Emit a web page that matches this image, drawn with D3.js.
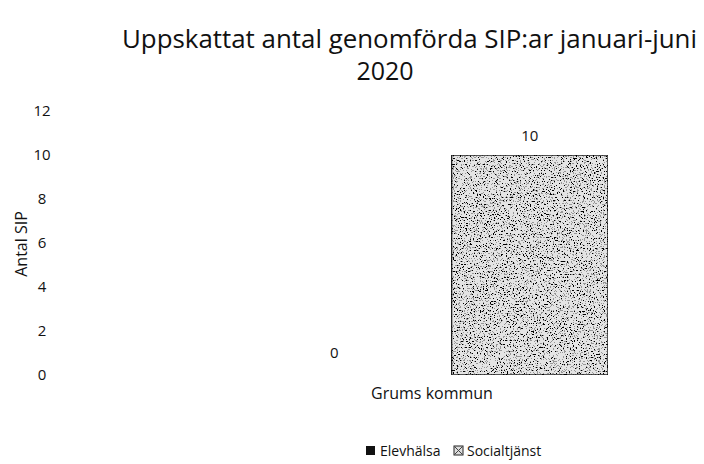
<!DOCTYPE html>
<html>
<head>
<meta charset="utf-8">
<script src="https://cdn.jsdelivr.net/npm/d3@7"></script>
<style>
  body { margin: 0; background: #fff; }
  text { font-family: "Open Sans", "Liberation Sans", sans-serif; fill: #111; }
</style>
</head>
<body>
<div id="chart"></div>
<script>
// data
var categories = ["Grums kommun"];
var series = ["Elevhälsa", "Socialtjänst"];
var elevhalsa = [0];
var socialtjanst = [10];
var yTicks = [0, 2, 4, 6, 8, 10, 12];

var W = 704, H = 464;
var svg = d3.select("#chart").append("svg")
  .attr("width", W).attr("height", H);

// speckled scan look for the bar
var defs = svg.append("defs");
var f = defs.append("filter").attr("id", "speckle")
  .attr("x", 0).attr("y", 0).attr("width", 1).attr("height", 1);
f.append("feTurbulence").attr("type", "fractalNoise")
  .attr("baseFrequency", 0.7).attr("numOctaves", 3).attr("seed", 7).attr("result", "n");
f.append("feColorMatrix").attr("in", "n").attr("type", "matrix")
  .attr("values", "0 0 0 0 0  0 0 0 0 0  0 0 0 0 0  -3 0 0 0 1.75").attr("result", "dots");
f.append("feComponentTransfer").attr("in", "dots").attr("result", "dots2")
  .append("feFuncA").attr("type", "discrete").attr("tableValues", "0 0 0.6 1");
f.append("feComposite").attr("in", "dots2").attr("in2", "SourceGraphic").attr("operator", "in").attr("result", "d3");
var m = f.append("feMerge");
m.append("feMergeNode").attr("in", "SourceGraphic");
m.append("feMergeNode").attr("in", "d3");

var y = d3.scaleLinear().domain([0, 12]).range([375, 111]);
var x0 = d3.scaleBand().domain(categories).range([256, 608]);
var x1 = d3.scaleBand().domain(series).range([0, x0.bandwidth()]).paddingInner(0.2);

var rows = categories.map(function(c, i) {
  return [{s: series[0], v: elevhalsa[i], c: c}, {s: series[1], v: socialtjanst[i], c: c}];
});

// title
svg.append("text").attr("x", 122).attr("y", 48)
  .attr("textLength", 575).attr("lengthAdjust", "spacingAndGlyphs")
  .style("font-size", "25px").text("Uppskattat antal genomförda SIP:ar januari-juni");
svg.append("text").attr("x", 385).attr("y", 80).attr("text-anchor", "middle")
  .style("font-size", "25px").text("2020");

// y axis (labels only)
var yAxis = svg.append("g").attr("transform", "translate(48,0)")
  .call(d3.axisLeft(y).tickValues(yTicks).tickSize(0).tickPadding(0));
yAxis.select(".domain").remove();
yAxis.selectAll("text").attr("text-anchor", "middle").attr("x", -6)
  .style("font-size", "15px").style("font-family", "'Open Sans', sans-serif").attr("fill", "#111");

svg.append("text").attr("transform", "translate(27,244) rotate(-90)")
  .attr("text-anchor", "middle").style("font-size", "16px").text("Antal SIP");

// bars
var g = svg.append("g");
rows.forEach(function(r) {
  var gg = g.append("g").attr("transform", "translate(" + x0(r[0].c) + ",0)");
  gg.selectAll("rect").data(r.filter(function(d) { return d.v > 0; })).enter().append("rect")
    .attr("x", function(d) { return x1(d.s); })
    .attr("y", function(d) { return y(d.v); })
    .attr("width", x1.bandwidth())
    .attr("height", function(d) { return y(0) - y(d.v); })
    .attr("fill", "#e4e4e4")
    .attr("stroke", "#222").attr("stroke-width", 1.5)
    .attr("filter", "url(#speckle)");
  gg.selectAll(".lbl").data(r).enter().append("text")
    .attr("x", function(d) { return x1(d.s) + x1.bandwidth() / 2; })
    .attr("y", function(d) { return d.v > 0 ? y(d.v) - 14 : y(0) - 17; })
    .attr("text-anchor", "middle").style("font-size", "15px")
    .text(function(d) { return d.v; });
});

// x label
svg.selectAll(".cat").data(categories).enter().append("text")
  .attr("x", function(d) { return x0(d) + x0.bandwidth() / 2; })
  .attr("y", 399).attr("text-anchor", "middle").style("font-size", "16px")
  .text(function(d) { return d; });

// legend
var lg = svg.append("g").attr("transform", "translate(366,446)");
lg.append("rect").attr("x", 0).attr("y", 0).attr("width", 9).attr("height", 9).attr("fill", "#111");
lg.append("text").attr("x", 14).attr("y", 10).style("font-size", "14px").text(series[0]);
var s2 = lg.append("g").attr("transform", "translate(88,0)");
s2.append("rect").attr("width", 9).attr("height", 9).attr("fill", "#ddd").attr("stroke", "#222").attr("stroke-width", 1);
s2.append("path").attr("d", "M1,1L8,8M8,1L1,8").attr("stroke", "#444").attr("stroke-width", 1);
s2.append("text").attr("x", 13).attr("y", 10).style("font-size", "14px").text(series[1]);
</script>
</body>
</html>
